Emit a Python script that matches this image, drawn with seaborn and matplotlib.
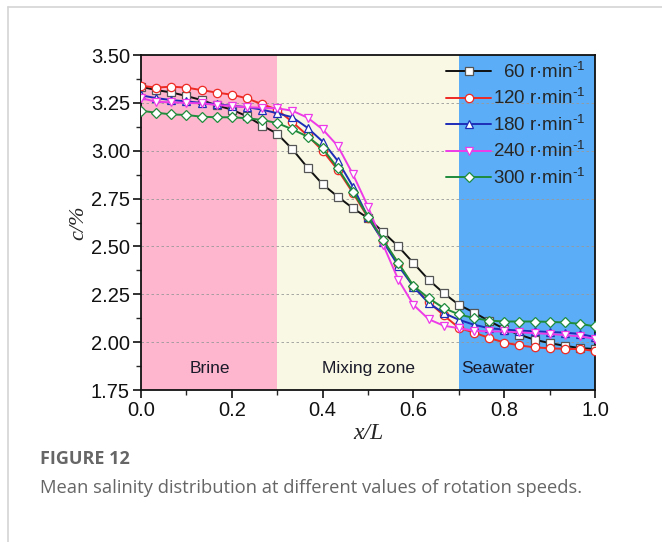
import numpy as np
import pandas as pd
import matplotlib
matplotlib.use("Agg")
import matplotlib.pyplot as plt
import seaborn as sns
from matplotlib.lines import Line2D
from matplotlib.ticker import MultipleLocator

sns.set_theme(style="white")
plt.rcParams['font.family'] = ['Liberation Sans', 'DejaVu Sans']
plt.rcParams['mathtext.fontset'] = 'custom'
plt.rcParams['mathtext.rm'] = 'Liberation Sans'

x_vals = [i / 30 for i in range(31)]

s60 = [3.335, 3.317, 3.305, 3.286, 3.265, 3.237, 3.215, 3.180, 3.132, 3.089,
       3.008, 2.912, 2.825, 2.760, 2.700, 2.648, 2.575, 2.500, 2.413, 2.326,
       2.256, 2.195, 2.155, 2.110, 2.070, 2.039, 2.013, 1.995, 1.981, 1.969, 1.964]
s120 = [3.340, 3.330, 3.335, 3.330, 3.317, 3.304, 3.293, 3.274, 3.243, 3.215,
        3.150, 3.080, 3.000, 2.900, 2.780, 2.650, 2.530, 2.410, 2.290, 2.210,
        2.140, 2.075, 2.050, 2.022, 1.998, 1.983, 1.973, 1.968, 1.965, 1.964, 1.954]
s180 = [3.290, 3.275, 3.265, 3.258, 3.250, 3.243, 3.235, 3.228, 3.215, 3.196,
        3.175, 3.120, 3.048, 2.947, 2.813, 2.652, 2.525, 2.399, 2.290, 2.204,
        2.152, 2.117, 2.091, 2.073, 2.066, 2.060, 2.057, 2.053, 2.050, 2.043, 2.026]
s240 = [3.275, 3.256, 3.253, 3.250, 3.248, 3.239, 3.234, 3.227, 3.225, 3.222,
        3.209, 3.173, 3.112, 3.025, 2.877, 2.708, 2.508, 2.326, 2.195, 2.120,
        2.086, 2.073, 2.060, 2.056, 2.056, 2.051, 2.047, 2.043, 2.037, 2.030, 2.018]
s300 = [3.209, 3.199, 3.190, 3.187, 3.178, 3.175, 3.175, 3.170, 3.161, 3.145,
        3.112, 3.074, 3.013, 2.909, 2.787, 2.656, 2.534, 2.413, 2.294, 2.230,
        2.178, 2.145, 2.126, 2.113, 2.108, 2.108, 2.108, 2.106, 2.103, 2.096, 2.082]

series_names = ["  60 r·min$^{\\text{-1}}$", "120 r·min$^{\\text{-1}}$", "180 r·min$^{\\text{-1}}$",
                "240 r·min$^{\\text{-1}}$", "300 r·min$^{\\text{-1}}$"]
series_vals = [s60, s120, s180, s240, s300]
colors = ["#111111", "#EE2A24", "#1E2DB8", "#EE3BE8", "#1F8C3C"]
markers = ["s", "o", "^", "v", "D"]
msizes = [5.5, 6, 6, 6, 5]

regions = [(0.0, 0.3, "Brine", "#FDB6CD"),
           (0.3, 0.7, "Mixing zone", "#F8F8E4"),
           (0.7, 1.0, "Seawater", "#5AADF6")]
region_label_x = [0.152, 0.502, 0.785]

fig = plt.figure(figsize=(6.62, 5.42), dpi=100)
ax = fig.add_axes([0.213, 0.2804, 0.686, 0.618])

for (x0, x1, name, col), lx in zip(regions, region_label_x):
    ax.axvspan(x0, x1, color=col, zorder=0, lw=0)
    ax.text(lx, 1.862, name, ha="center", va="center", fontsize=12.5, color="#1a1a2a", zorder=5)

for yv in [2.0, 2.25, 2.5, 2.75, 3.0, 3.25]:
    ax.axhline(yv, color="#999999", lw=0.6, ls=(0, (3, 3)), zorder=1)

for name, vals, c, m, ms in zip(series_names, series_vals, colors, markers, msizes):
    d = pd.DataFrame({"x": x_vals, "y": vals})
    sns.lineplot(data=d, x="x", y="y", ax=ax, color=c, marker=m, markersize=ms,
                 markerfacecolor="white", markeredgecolor=c if c != "#111111" else "#555555",
                 markeredgewidth=0.9, lw=1.4, label=name, zorder=3)

ax.set_xlim(0, 1.0)
ax.set_ylim(1.75, 3.50)
ax.xaxis.set_minor_locator(MultipleLocator(0.1))
ax.yaxis.set_minor_locator(MultipleLocator(0.125))
ax.set_xticks([0.0, 0.2, 0.4, 0.6, 0.8, 1.0])
ax.set_xticklabels(["0.0", "0.2", "0.4", "0.6", "0.8", "1.0"])
ax.set_yticks([1.75, 2.0, 2.25, 2.5, 2.75, 3.0, 3.25, 3.5])
ax.set_yticklabels(["1.75", "2.00", "2.25", "2.50", "2.75", "3.00", "3.25", "3.50"])
ax.tick_params(axis="both", which="major", direction="out", length=6, width=1.2,
               labelsize=14.5, colors="#111111", bottom=True, left=True, top=False, right=False, pad=2)
ax.tick_params(axis="both", which="minor", direction="out", length=3.5, width=1.0,
               bottom=True, left=True, top=False, right=False)
for sp in ax.spines.values():
    sp.set_color("#111111")
    sp.set_linewidth(1.3)

ax.set_xlabel("x/L", fontsize=17, family=["Liberation Serif"], style="italic", labelpad=2)
ax.set_ylabel("c/%", fontsize=16, family=["Liberation Serif"], style="italic", labelpad=2)

leg = ax.legend(loc="upper right", frameon=False, fontsize=13.5, handlelength=2.4,
                handletextpad=0.1, labelspacing=0.3, borderaxespad=0.1,
                bbox_to_anchor=(1.0, 1.01))

fig.text(40 / 662, 1 - 459 / 542, "FIGURE 12", fontsize=13, color="#666666",
         family=["Liberation Sans Narrow", "Open Sans", "DejaVu Sans"], weight="bold", va="center")
fig.text(40 / 662, 1 - 488 / 542, "Mean salinity distribution at different values of rotation speeds.",
         fontsize=13.2, color="#666666", family=["Open Sans", "DejaVu Sans"], va="center")

fig.add_artist(Line2D([8 / 662, 8 / 662], [0, 1 - 7 / 542], transform=fig.transFigure,
                      color="#d4d4d4", lw=1.2))
fig.add_artist(Line2D([8 / 662, 1], [1 - 7 / 542, 1 - 7 / 542], transform=fig.transFigure,
                      color="#d4d4d4", lw=1.2))

fig.savefig("out.png", dpi=100)
